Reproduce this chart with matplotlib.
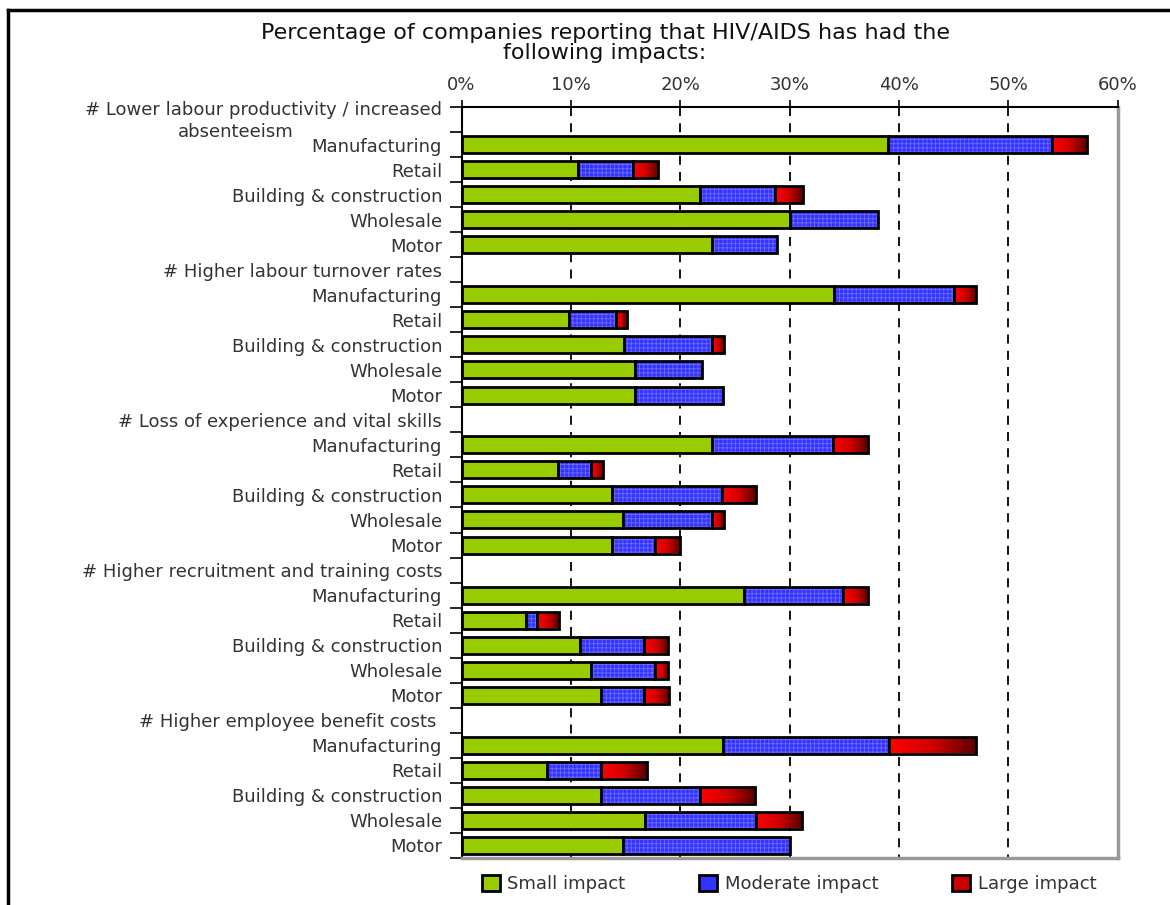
import numpy as np
import matplotlib
matplotlib.use("Agg")
import matplotlib.pyplot as plt
from matplotlib.colors import LinearSegmentedColormap
from matplotlib.lines import Line2D
from matplotlib.patches import Patch
from matplotlib.ticker import PercentFormatter
from matplotlib.transforms import offset_copy

# --- data (percent of companies) ---
impacts = [
    "# Lower labour productivity / increased",
    "# Higher labour turnover rates",
    "# Loss of experience and vital skills",
    "# Higher recruitment and training costs",
    "# Higher employee benefit costs ",
]
first_impact_wrap = "absenteeism"
sectors = ["Manufacturing", "Retail", "Building & construction", "Wholesale", "Motor"]

small_impact = [
    [39.0, 10.7, 21.8, 30.0, 22.9],
    [34.1, 9.8, 14.9, 15.9, 15.9],
    [22.9, 8.8, 13.8, 14.8, 13.8],
    [25.8, 5.9, 10.8, 11.8, 12.8],
    [23.9, 7.8, 12.8, 16.8, 14.8],
]
moderate_impact = [
    [15.0, 5.0, 6.9, 8.1, 6.0],
    [10.9, 4.3, 8.0, 6.1, 8.0],
    [11.1, 3.0, 10.0, 8.1, 3.9],
    [9.1, 1.0, 5.9, 5.9, 3.9],
    [15.2, 5.0, 9.0, 10.1, 15.2],
]
large_impact = [
    [3.2, 2.3, 2.5, 0.0, 0.0],
    [2.1, 1.0, 1.1, 0.0, 0.0],
    [3.2, 1.1, 3.1, 1.1, 2.3],
    [2.3, 2.0, 2.2, 1.2, 2.3],
    [8.0, 4.2, 5.0, 4.2, 0.0],
]
x_ticks = [0, 10, 20, 30, 40, 50, 60]

# flatten into rows: a header row (no bar) then one row per sector
labels, small, moderate, large = [], [], [], []
for g, name in enumerate(impacts):
    labels.append(name)
    small.append(0.0); moderate.append(0.0); large.append(0.0)
    labels += sectors
    small += small_impact[g]
    moderate += moderate_impact[g]
    large += large_impact[g]
small = np.array(small)
moderate = np.array(moderate)
large = np.array(large)
y = np.arange(len(labels))

GREEN = "#99cc00"
BLUE = "#3333ff"
TXT = "#333333"
plt.rcParams["font.family"] = ["DejaVu Sans"]
plt.rcParams["hatch.linewidth"] = 0.6

fig = plt.figure(figsize=(11.7, 9.05), dpi=100)
ax = fig.add_axes([461.5 / 1170, 1 - 857.5 / 905, 656 / 1170, 750 / 905])

h = 0.68
# dashed gridlines at the inner ticks
ax.vlines(x_ticks[1:-1], -0.5, len(labels) - 0.5, colors="black",
          linestyles=(0, (5, 4)), linewidth=1.3, zorder=1)

b1 = ax.barh(y, small, height=h, color=GREEN, edgecolor="black", linewidth=2, zorder=3)
# blue with a fine dotted texture, then a black outline on top
ax.barh(y, moderate, left=small, height=h, color=BLUE, edgecolor="#6b6bff",
        hatch="++++", linewidth=0, zorder=3)
b2 = ax.barh(y, moderate, left=small, height=h, color="none", edgecolor="black",
             linewidth=2, zorder=4)
b3 = ax.barh(y, large, left=small + moderate, height=h, color="none",
             edgecolor="black", linewidth=2, zorder=4)

for bars in (b1, b2, b3):
    for p in bars:
        if p.get_width() <= 0:
            p.set_visible(False)

# red bars get a left-to-right gradient
red_cmap = LinearSegmentedColormap.from_list("red_grad", ["#ff0000", "#d00000", "#5a0000"])
grad = np.linspace(0, 1, 128).reshape(1, -1)
for p in b3:
    if p.get_width() <= 0:
        continue
    x0, y0, w, hh = p.get_x(), p.get_y(), p.get_width(), p.get_height()
    im = ax.imshow(grad, cmap=red_cmap, extent=[x0, x0 + w, y0 + hh, y0],
                   aspect="auto", interpolation="bilinear", zorder=3)
    im.set_clip_path(p)

ax.set_xlim(0, 60)
ax.set_ylim(len(labels) - 0.5, -0.5)

ax.xaxis.tick_top()
ax.set_xticks(x_ticks)
ax.xaxis.set_major_formatter(PercentFormatter(decimals=0))
ax.tick_params(axis="x", length=5, width=1.2, pad=5, labelsize=13, labelcolor=TXT)

# first header wraps onto two lines: draw it by hand, the rest as tick labels
tick_labels = [""] + labels[1:]
ax.set_yticks(y)
ax.set_yticklabels(tick_labels, fontsize=13, color=TXT)
ax.set_yticks(np.arange(-0.5, len(labels), 1), minor=True)
ax.tick_params(axis="y", which="major", length=0, pad=14)
ax.tick_params(axis="y", which="minor", length=9, width=1.2)

ytrans = ax.get_yaxis_transform()
ax.text(0, 0, labels[0], ha="right", va="center", fontsize=13, color=TXT,
        transform=offset_copy(ytrans, fig=fig, x=-19.5, y=10, units="dots"))
ax.text(0, 0, first_impact_wrap, ha="center", va="center", fontsize=13, color=TXT,
        transform=offset_copy(ytrans, fig=fig, x=-226, y=-12, units="dots"))

for s in ("left", "top"):
    ax.spines[s].set_linewidth(1.5)
    ax.spines[s].set_color("black")
for s in ("right", "bottom"):
    ax.spines[s].set_linewidth(2.5)
    ax.spines[s].set_color("#999999")

fig.text(605 / 1170, 1 - 43 / 905,
         "Percentage of companies reporting that HIV/AIDS has had the\nfollowing impacts:",
         ha="center", va="center", fontsize=16, linespacing=1.05, color="#111111")

handles = [
    Patch(facecolor=GREEN, edgecolor="black", linewidth=2),
    Patch(facecolor=BLUE, edgecolor="black", linewidth=2),
    Patch(facecolor="#cc0000", edgecolor="black", linewidth=2),
]
fig.legend(handles, ["Small impact", "Moderate impact", "Large impact"],
           loc="center", bbox_to_anchor=(789 / 1170, 1 - 884 / 905), ncol=3,
           frameon=False, fontsize=13, handlelength=1.0, handleheight=1.0,
           handletextpad=0.4, columnspacing=4.1, labelcolor=TXT)

# outer chart border (top and left visible in the reference)
fig.add_artist(Line2D([8 / 1170, 8 / 1170], [0, 1 - 10 / 905], color="black",
                      linewidth=2.5, transform=fig.transFigure))
fig.add_artist(Line2D([8 / 1170, 1], [1 - 10 / 905, 1 - 10 / 905], color="black",
                      linewidth=2.5, transform=fig.transFigure))

fig.savefig("out.png", dpi=100)
